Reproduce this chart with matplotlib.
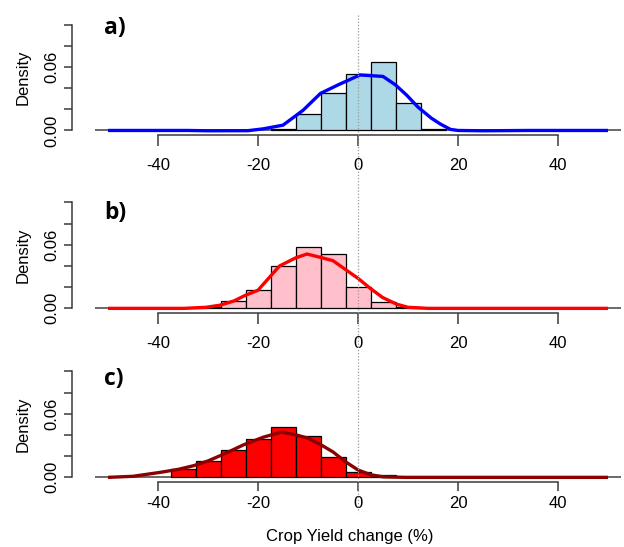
import matplotlib
matplotlib.use('Agg')
import matplotlib.pyplot as plt
import numpy as np
from matplotlib.lines import Line2D

plt.rcParams['font.family'] = ['Liberation Sans', 'DejaVu Sans']

# ---------------- data ----------------
panel_labels = ['a)', 'b)', 'c)']
xticks = [-40, -20, 0, 20, 40]
yticks = [0.00, 0.02, 0.04, 0.06, 0.08, 0.10]
ytick_labels = ['0.00', '', '', '0.06', '', '']

a_edges = [-17.5, -12.5, -7.5, -2.5, 2.5, 7.5, 12.5, 17.5]
a_density = [0.0015, 0.0160, 0.0355, 0.0535, 0.0645, 0.0255, 0.0015]

b_edges = [-37.5, -32.5, -27.5, -22.5, -17.5, -12.5, -7.5, -2.5, 2.5, 7.5, 12.5]
b_density = [0.0008, 0.0012, 0.0072, 0.0177, 0.0404, 0.0582, 0.0513, 0.0202, 0.0056, 0.0016]

c_edges = [-37.5, -32.5, -27.5, -22.5, -17.5, -12.5, -7.5, -2.5, 2.5, 7.5]
c_density = [0.0079, 0.0157, 0.0260, 0.0363, 0.0479, 0.0390, 0.0188, 0.0053, 0.0019]

a_curve_x = [-50, -34, -30, -22, -19, -15, -11, -7.5, -4, 0.4, 5, 7.5, 9.7, 12, 14.7, 16.5, 18.5, 20, 25, 34, 50]
a_curve_y = [0, 0, -0.0003, -0.0002, 0.0015, 0.005, 0.019, 0.035, 0.043, 0.0524, 0.051, 0.043, 0.0335, 0.022,
             0.0115, 0.006, 0.001, 0, -0.0003, 0, 0]

b_curve_x = [-50, -34.8, -30.4, -27.6, -24.8, -22.5, -20, -15.7, -12.5, -10.2, -7.4, -5, -2.6, 0.1, 2.5, 4.9,
             7.7, 10, 14, 50]
b_curve_y = [0, 0, 0.001, 0.003, 0.007, 0.0124, 0.0171, 0.040, 0.0476, 0.0513, 0.048, 0.045, 0.037, 0.028,
             0.0187, 0.0103, 0.004, 0.001, 0, 0]

c_curve_x = [-50, -45, -39.6, -36, -32.9, -30, -27.6, -25, -22.9, -20, -18.9, -15.3, -12.3, -10, -7.5, -5,
             -2.5, 0, 2.5, 5, 9.5, 50]
c_curve_y = [0, 0.001, 0.0047, 0.0075, 0.011, 0.0155, 0.0204, 0.026, 0.0307, 0.036, 0.038, 0.0427, 0.040,
             0.037, 0.031, 0.024, 0.0147, 0.007, 0.0025, 0.0005, 0, 0]

xlabel = 'Crop Yield change (%)'
ylabel = 'Density'

# ---------------- styling / layout ----------------
W, H = 624, 547
fig = plt.figure(figsize=(W / 100, H / 100), dpi=100)


def fx(px):
    return px / W


def fy(py):
    return 1 - py / H


panels = [
    dict(edges=a_edges, dens=a_density, cx=a_curve_x, cy=a_curve_y, face='#ADD8E6', line='#0000FF',
         bottom_px=134.7, label_y=0.097, xpad=9.0, xlen=8.0),
    dict(edges=b_edges, dens=b_density, cx=b_curve_x, cy=b_curve_y, face='#FFC0CB', line='#FF0000',
         bottom_px=312.6, label_y=0.090, xpad=8.5, xlen=8.0),
    dict(edges=c_edges, dens=c_density, cx=c_curve_x, cy=c_curve_y, face='#FF0000', line='#8B0000',
         bottom_px=481.6, label_y=0.093, xpad=4.0, xlen=6.5),
]

left_px, right_px = 95, 621
ax_h_px = 114.4
axis_col = '#3a3a3a'
axes = []
for i, p in enumerate(panels):
    ax = fig.add_axes([fx(left_px), fy(p['bottom_px']), (right_px - left_px) / W, ax_h_px / H])
    ax.set_facecolor('none')
    ax.set_xlim(-52.6, 52.6)
    ax.set_ylim(-0.004, 0.104)
    e = np.array(p['edges'])
    ax.bar(e[:-1], p['dens'], width=np.diff(e), align='edge', color=p['face'],
           edgecolor='black', linewidth=0.9, zorder=2)
    ax.axhline(0, color='#505050', linewidth=1.2, zorder=1)
    ax.plot(p['cx'], p['cy'], color=p['line'], linewidth=2.4, zorder=4,
            solid_capstyle='butt', solid_joinstyle='round')
    for s in ['top', 'right']:
        ax.spines[s].set_visible(False)
    ax.spines['left'].set_position(('outward', 16.8))
    ax.spines['left'].set_bounds(0, 0.10)
    ax.spines['bottom'].set_bounds(-40, 40)
    for s in ['left', 'bottom']:
        ax.spines[s].set_color(axis_col)
        ax.spines[s].set_linewidth(1.1)
    ax.set_xticks(xticks)
    ax.set_xticklabels([str(t) for t in xticks])
    ax.set_yticks(yticks)
    ax.set_yticklabels(ytick_labels, rotation=90, va='center')
    ax.tick_params(axis='x', length=p['xlen'], width=1.1, color=axis_col, pad=p['xpad'], labelsize=12)
    ax.tick_params(axis='y', length=6, width=1.1, color=axis_col, pad=2.8, labelsize=12)
    ax.text(-50.8, p['label_y'], panel_labels[i], fontsize=16.5, fontweight='bold',
            ha='left', va='center', family=['Open Sans', 'DejaVu Sans'])
    # y label
    yc = p['bottom_px'] - ax_h_px / 2
    fig.text(fx(22.7), fy(yc), ylabel, rotation=90, ha='center', va='center', fontsize=12)
    axes.append(ax)

fig.text(fx(350), fy(537), xlabel, ha='center', va='center', fontsize=12)

# vertical dotted reference line at x = 0 through all panels
fig.canvas.draw()
x0_disp = axes[0].transData.transform((0, 0))[0]
x0_fig = fig.transFigure.inverted().transform((x0_disp, 0))[0]
fig.add_artist(Line2D([x0_fig, x0_fig], [fy(15), fy(512)], transform=fig.transFigure,
                      color='#9a9a9a', linestyle=(0, (1, 1.5)), linewidth=0.9, zorder=5))

fig.savefig('out.png', dpi=100)
